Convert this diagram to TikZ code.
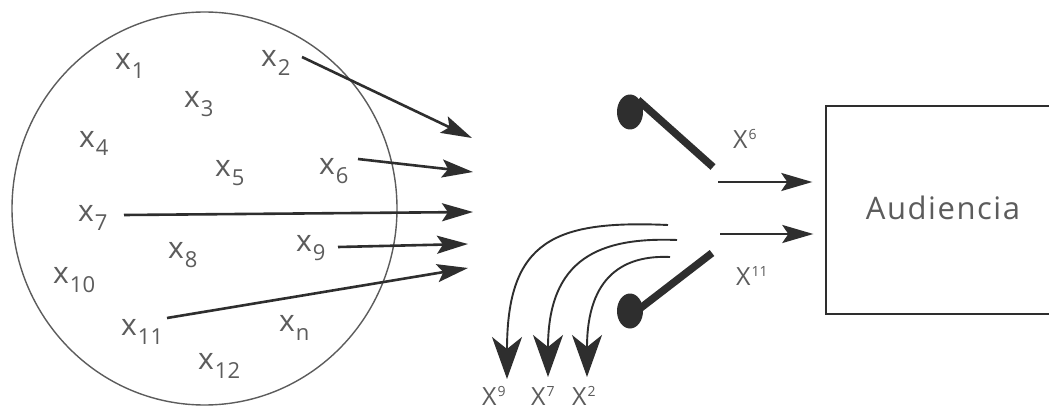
\documentclass[tikz,border=0pt]{standalone}
\usepackage{fontspec}
\setmainfont{Open Sans}
\usetikzlibrary{arrows.meta}
\definecolor{ink}{HTML}{2E2E2E}
\definecolor{txt}{HTML}{5C5C5C}
\newcommand\xsub[1]{x\kern1pt\raisebox{-9pt}{\fontsize{22}{22}\selectfont #1}}
\newcommand\xsup[1]{X\kern1pt\raisebox{9pt}{\fontsize{14}{14}\selectfont #1}}
\begin{document}
\begin{tikzpicture}[x=1pt,y=-1pt,
  lab/.style={text=txt, font=\fontsize{30}{30}\selectfont, inner sep=0pt, anchor=base west},
  slab/.style={text=txt, font=\fontsize{25}{25}\selectfont, inner sep=0pt, anchor=base west},
  inarrow/.style={draw=ink, line width=2.6pt, -{Stealth[length=31pt,width=18pt,inset=6pt]}},
  outarrow/.style={draw=ink, line width=1.9pt, -{Stealth[length=42pt,width=30pt,inset=12pt]}},
  funnel/.style={draw=ink, line width=7.5pt, line cap=butt},
  blob/.style={fill=ink}]
\useasboundingbox (0,0) rectangle (1049,409);
\fill[white] (0,0) rectangle (1049,409);

% population circle
\draw[txt, line width=1.4pt] (204.5,208.5) ellipse [x radius=192.5pt, y radius=196.5pt];

% elements
\node[lab] (x1)  at (115,70)  {\xsub{1}};
\node[lab] (x2)  at (261,67)  {\xsub{2}};
\node[lab] (x3)  at (184,108) {\xsub{3}};
\node[lab] (x4)  at (79,147)  {\xsub{4}};
\node[lab] (x5)  at (215,176) {\xsub{5}};
\node[lab] (x6)  at (319,175) {\xsub{6}};
\node[lab] (x7)  at (78,221)  {\xsub{7}};
\node[lab] (x8)  at (168,258) {\xsub{8}};
\node[lab] (x9)  at (296,251) {\xsub{9}};
\node[lab] (x10) at (53,283)  {\xsub{10}};
\node[lab] (x11) at (121,335) {\xsub{11}};
\node[lab] (xn)  at (279,331) {\xsub{n}};
\node[lab] (x12) at (198,369) {\xsub{12}};

% arrow endpoints
\coordinate (s2) at (302,57);   \coordinate (e2) at (472,138);
\coordinate (s6) at (358,159);  \coordinate (e6) at (473,172);
\coordinate (s7) at (124,215);  \coordinate (e7) at (473,212);
\coordinate (s9) at (338,247);  \coordinate (e9) at (468,244);
\coordinate (s11) at (167,318); \coordinate (e11) at (468,268);

\draw[inarrow] (s2) -- (e2);
\draw[inarrow] (s6) -- (e6);
\draw[inarrow] (s7) -- (e7);
\draw[inarrow] (s9) -- (e9);
\draw[inarrow] (s11) -- (e11);

% funnel / filter
\fill[blob] (630,112) ellipse [x radius=13pt, y radius=17.5pt];
\draw[funnel] (638,100) -- (713,167);
\fill[blob] (630,311) ellipse [x radius=13pt, y radius=17.5pt];
\draw[funnel] (638,310) -- (712,253);

% audience box (right side runs off the picture)
\node[draw=ink, line width=1.4pt, minimum width=280pt, minimum height=208pt, inner sep=0pt] (aud) at (966,210) {};
\node[text=txt, font=\fontsize{31}{31}\selectfont\addfontfeatures{LetterSpace=5}, inner sep=0pt] (audt) at (943,208) {Audiencia};

% arrows into audience
\coordinate (r1) at (718,182);
\coordinate (r2) at (720,234);
\draw[inarrow] (r1) -- ([xshift=-13pt]r1 -| aud.west);
\draw[inarrow] (r2) -- ([xshift=-12pt]r2 -| aud.west);
\node[slab] (X6)  at (733,148) {\xsup{6}};
\node[slab] (X11) at (736,285) {\xsup{11}};

% rejected messages
\coordinate (c1s) at (668,225); \coordinate (c1e) at (507,379);
\coordinate (c2s) at (677,240); \coordinate (c2e) at (548,377);
\coordinate (c3s) at (670,257); \coordinate (c3e) at (587,377);
\draw[outarrow] (c1s) .. controls (555,220) and (507,240) .. (c1e);
\draw[outarrow] (c2s) .. controls (600,237) and (548,258) .. (c2e);
\draw[outarrow] (c3s) .. controls (625,255) and (587,275) .. (c3e);

\node[slab] (X9) at (482,405) {\xsup{9}};
\node[slab] (X7) at (531,405) {\xsup{7}};
\node[slab] (X2) at (572,405) {\xsup{2}};
\end{tikzpicture}
\end{document}
